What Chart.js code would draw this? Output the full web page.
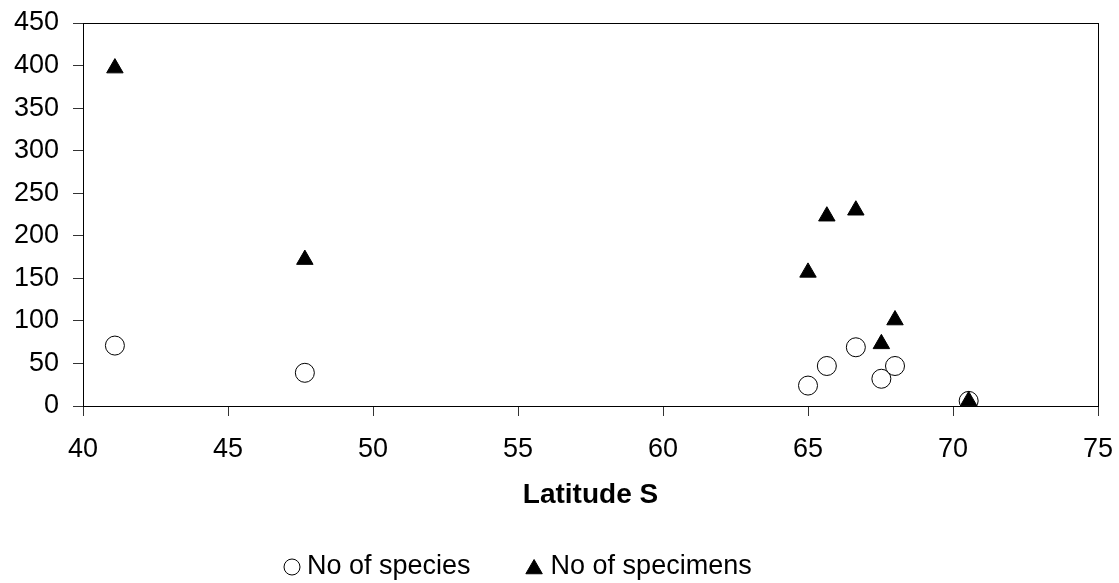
<!DOCTYPE html>
<html>
<head>
<meta charset="utf-8">
<title>Species and specimens by latitude</title>
<script src="https://cdn.jsdelivr.net/npm/chart.js@4/dist/chart.umd.min.js"></script>
<style>
    body { margin: 0; background: #fff; }
    #wrap { width: 1119px; height: 583px; position: relative; }
</style>
</head>
<body>
<div id="wrap"><canvas id="latChart"></canvas></div>
<script>
// sampling stations, degrees south
const latitude = [41.1, 47.65, 65.0, 65.65, 66.65, 67.53, 68.0, 70.54];
const speciesCount = [71, 39, 24, 47, 69, 32, 47, 6];
const specimenCount = [397, 172, 157, 223, 230, 73, 101, 6];

const xTicks = [40, 45, 50, 55, 60, 65, 70, 75];
const yTicks = [0, 50, 100, 150, 200, 250, 300, 350, 400, 450];

const seriesNames = ['No of species', 'No of specimens'];

const FONT = '"Liberation Sans", Arial, sans-serif';

function toPoints(values) {
    return latitude.map((x, i) => ({ x, y: values[i] }));
}

// black box round the plot area
const plotFrame = {
    id: 'plotFrame',
    beforeDatasetsDraw(chart) {
        const { ctx, chartArea: a } = chart;
        ctx.save();
        ctx.strokeStyle = '#000';
        ctx.lineWidth = 1;
        ctx.strokeRect(Math.round(a.left) + 0.5, Math.round(a.top) + 0.5,
            Math.round(a.right - a.left), Math.round(a.bottom - a.top));
        ctx.restore();
    }
};

// legend row under the axis title
const bottomLegend = {
    id: 'bottomLegend',
    afterDraw(chart, args, opts) {
        const ctx = chart.ctx;
        ctx.save();
        ctx.font = opts.fontSize + 'px ' + FONT;
        ctx.textBaseline = 'middle';
        ctx.textAlign = 'left';
        let x = opts.x;
        chart.data.datasets.forEach(ds => {
            ctx.fillStyle = ds.backgroundColor;
            ctx.strokeStyle = ds.borderColor;
            ctx.lineWidth = 1;
            const r = ds.pointStyle === 'triangle' ? opts.triRadius : opts.circleRadius;
            Chart.helpers.drawPoint(ctx, {
                pointStyle: ds.pointStyle, radius: r, rotation: 0, borderWidth: 1
            }, x + r, opts.y + (ds.pointStyle === 'triangle' ? 2 : 0));
            x += r * 2 + opts.markerGap;
            ctx.fillStyle = '#000';
            ctx.fillText(ds.label, x, opts.y);
            x += ctx.measureText(ds.label).width + opts.itemGap;
        });
        ctx.restore();
    }
};

const gridOpts = {
    drawOnChartArea: false,
    drawTicks: true,
    tickLength: 10,
    color: '#333',
    lineWidth: 1
};

// keep the plot edges where layout.padding puts them
function dropLabelPadding(s) {
    s.paddingTop = 0;
    s.paddingBottom = 0;
    s.paddingLeft = 0;
    s.paddingRight = 0;
}

new Chart(document.getElementById('latChart'), {
    type: 'scatter',
    data: {
        datasets: [{
            label: seriesNames[0],
            data: toPoints(speciesCount),
            pointStyle: 'circle',
            pointRadius: 9.5,
            pointHoverRadius: 9.5,
            backgroundColor: '#fff',
            borderColor: '#000',
            borderWidth: 1,
            order: 2
        }, {
            label: seriesNames[1],
            data: toPoints(specimenCount),
            pointStyle: 'triangle',
            pointRadius: 9.5,
            pointHoverRadius: 9.5,
            backgroundColor: '#000',
            borderColor: '#000',
            borderWidth: 1,
            order: 1
        }]
    },
    options: {
        responsive: true,
        maintainAspectRatio: false,
        animation: false,
        layout: {
            padding: { top: 23, right: 21, bottom: 67, left: 0 }
        },
        plugins: {
            legend: { display: false },
            tooltip: { enabled: false },
            bottomLegend: {
                x: 284, y: 567, fontSize: 27,
                circleRadius: 8, triRadius: 9.5,
                markerGap: 7, itemGap: 54
            }
        },
        scales: {
            x: {
                type: 'linear',
                min: xTicks[0],
                max: xTicks[xTicks.length - 1],
                afterBuildTicks: s => { s.ticks = xTicks.map(v => ({ value: v })); },
                afterFit: s => { s.height = 110; dropLabelPadding(s); },
                grid: gridOpts,
                border: { color: '#000', width: 1 },
                ticks: {
                    color: '#000',
                    padding: 17,
                    maxRotation: 0,
                    font: { family: FONT, size: 27 }
                },
                title: {
                    display: true,
                    text: 'Latitude S',
                    color: '#000',
                    padding: { top: 0, bottom: 4 },
                    font: { family: FONT, size: 28, weight: 'bold' }
                }
            },
            y: {
                min: yTicks[0],
                max: yTicks[yTicks.length - 1],
                afterBuildTicks: s => { s.ticks = yTicks.map(v => ({ value: v })); },
                afterFit: s => { s.width = 83; dropLabelPadding(s); },
                grid: gridOpts,
                border: { color: '#000', width: 1 },
                ticks: {
                    color: '#000',
                    padding: 14,
                    font: { family: FONT, size: 27 }
                }
            }
        }
    },
    plugins: [plotFrame, bottomLegend]
});
</script>
</body>
</html>
